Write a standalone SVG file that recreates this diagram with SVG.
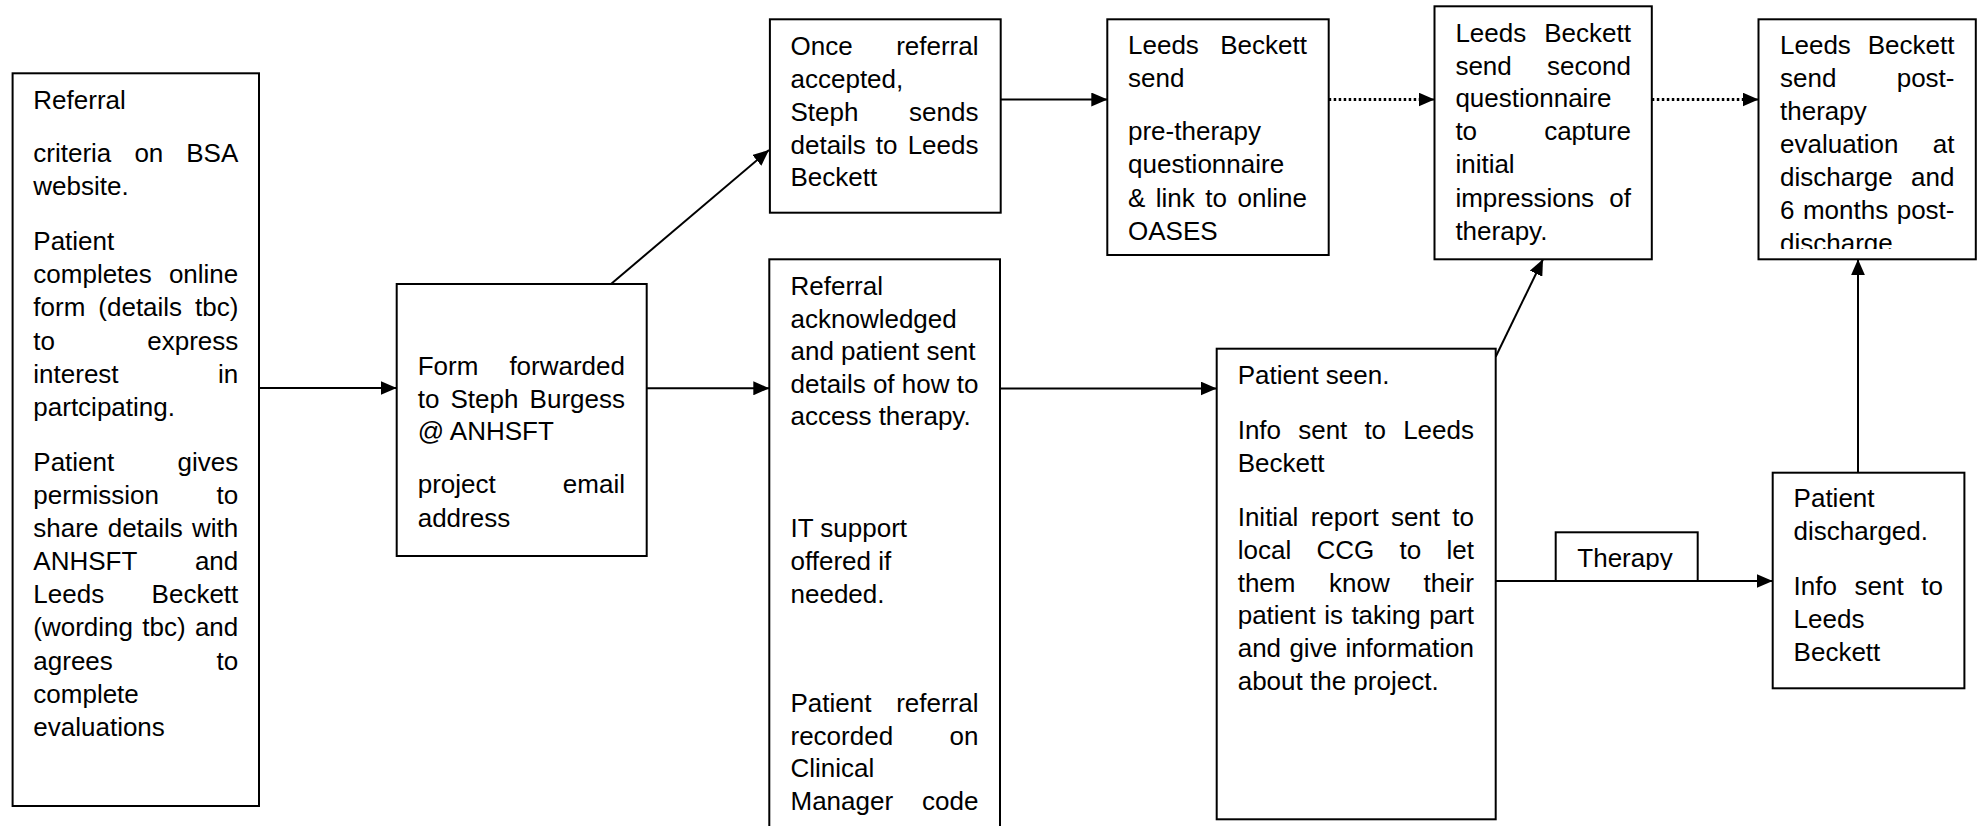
<svg xmlns="http://www.w3.org/2000/svg" width="1981" height="826" viewBox="0 0 1981 826">
<style>
.bx{fill:#fff;stroke:#000;stroke-width:2}
.t{font-family:"Liberation Sans",Arial,sans-serif;font-size:26px;fill:#000}
.e{text-anchor:end}
.ln{fill:none;stroke:#000;stroke-width:2}
.dt{fill:none;stroke:#000;stroke-width:3;stroke-dasharray:2.5 2.5}
</style>
<defs>
<marker id="ah" markerUnits="userSpaceOnUse" markerWidth="16" markerHeight="14" refX="16" refY="7" orient="auto">
<path d="M0,0 L16,7 L0,14 z" fill="#000" stroke="none"/>
</marker>
<clipPath id="c6"><rect x="1758" y="19" width="218" height="230"/></clipPath>
<clipPath id="cth"><rect x="1555" y="532" width="143" height="38"/></clipPath>
</defs>
<rect width="1981" height="826" fill="#fff"/>

<g id="connectors">
<path class="ln" d="M259,388 H396.7" marker-end="url(#ah)"/>
<path class="ln" d="M611,284 L769,150" marker-end="url(#ah)"/>
<path class="ln" d="M646.7,388.3 H769.3" marker-end="url(#ah)"/>
<path class="ln" d="M1000.7,99.5 H1107.3" marker-end="url(#ah)"/>
<path class="dt" d="M1328.7,99.5 H1419"/>
<path class="ln" d="M1419,99.5 H1434.5" marker-end="url(#ah)"/>
<path class="dt" d="M1651.8,99.5 H1743"/>
<path class="ln" d="M1743,99.5 H1758.5" marker-end="url(#ah)"/>
<path class="ln" d="M1000,388.5 H1216.7" marker-end="url(#ah)"/>
<path class="ln" d="M1495.7,356.7 L1543,259.3" marker-end="url(#ah)"/>
<path class="ln" d="M1495.7,581 H1772.7" marker-end="url(#ah)"/>
<path class="ln" d="M1858,472.7 V259.3" marker-end="url(#ah)"/>
</g>

<g id="n1">
<rect class="bx" x="12.6" y="73.3" width="246.4" height="732.7"/>
<text class="t" x="33.3" y="108.5">Referral</text>
<text class="t" x="33.3" y="162">criteria</text><text class="t" x="134.4" y="162">on</text><text class="t e" x="238.3" y="162">BSA</text>
<text class="t" x="33.3" y="195">website.</text>
<text class="t" x="33.3" y="250">Patient</text>
<text class="t" x="33.3" y="283">completes</text><text class="t e" x="238.3" y="283">online</text>
<text class="t" x="33.3" y="316">form</text><text class="t" x="98.3" y="316">(details</text><text class="t e" x="238.3" y="316">tbc)</text>
<text class="t" x="33.3" y="349.5">to</text><text class="t e" x="238.3" y="349.5">express</text>
<text class="t" x="33.3" y="383">interest</text><text class="t e" x="238.3" y="383">in</text>
<text class="t" x="33.3" y="416">partcipating.</text>
<text class="t" x="33.3" y="471">Patient</text><text class="t e" x="238.3" y="471">gives</text>
<text class="t" x="33.3" y="504">permission</text><text class="t e" x="238.3" y="504">to</text>
<text class="t" x="33.3" y="537">share</text><text class="t" x="107.7" y="537">details</text><text class="t e" x="238.3" y="537">with</text>
<text class="t" x="33.3" y="570">ANHSFT</text><text class="t e" x="238.3" y="570">and</text>
<text class="t" x="33.3" y="603">Leeds</text><text class="t e" x="238.3" y="603">Beckett</text>
<text class="t" x="33.3" y="636">(wording</text><text class="t" x="142.3" y="636">tbc)</text><text class="t e" x="238.3" y="636">and</text>
<text class="t" x="33.3" y="669.5">agrees</text><text class="t e" x="238.3" y="669.5">to</text>
<text class="t" x="33.3" y="702.5">complete</text>
<text class="t" x="33.3" y="735.5">evaluations</text>
</g>

<g id="n2">
<rect class="bx" x="396.7" y="284" width="250" height="272"/>
<text class="t" x="417.7" y="375">Form</text><text class="t e" x="625" y="375">forwarded</text>
<text class="t" x="417.7" y="407.7">to</text><text class="t" x="450.5" y="407.7">Steph</text><text class="t e" x="625" y="407.7">Burgess</text>
<text class="t" x="417.7" y="440">@ ANHSFT</text>
<text class="t" x="417.7" y="493.3">project</text><text class="t e" x="625" y="493.3">email</text>
<text class="t" x="417.7" y="526.7">address</text>
</g>

<g id="n3">
<rect class="bx" x="769.9" y="19.3" width="230.8" height="193.4"/>
<text class="t" x="790.5" y="55">Once</text><text class="t e" x="978.5" y="55">referral</text>
<text class="t" x="790.5" y="88">accepted,</text>
<text class="t" x="790.5" y="121">Steph</text><text class="t e" x="978.5" y="121">sends</text>
<text class="t" x="790.5" y="153.5">details</text><text class="t" x="875.8" y="153.5">to</text><text class="t e" x="978.5" y="153.5">Leeds</text>
<text class="t" x="790.5" y="186">Beckett</text>
</g>

<g id="n4">
<rect class="bx" x="1107.3" y="19.3" width="221.4" height="235.7"/>
<text class="t" x="1128" y="54">Leeds</text><text class="t e" x="1307" y="54">Beckett</text>
<text class="t" x="1128" y="87">send</text>
<text class="t" x="1128" y="139.5">pre-therapy</text>
<text class="t" x="1128" y="173">questionnaire</text>
<text class="t" x="1128" y="206.5">&amp;</text><text class="t" x="1155.8" y="206.5">link</text><text class="t" x="1205.3" y="206.5">to</text><text class="t e" x="1307" y="206.5">online</text>
<text class="t" x="1128" y="240">OASES</text>
</g>

<g id="n5">
<rect class="bx" x="1434.5" y="6.3" width="217.3" height="253"/>
<text class="t" x="1455.4" y="42">Leeds</text><text class="t e" x="1630.9" y="42">Beckett</text>
<text class="t" x="1455.4" y="74.5">send</text><text class="t e" x="1630.9" y="74.5">second</text>
<text class="t" x="1455.4" y="107">questionnaire</text>
<text class="t" x="1455.4" y="140">to</text><text class="t e" x="1630.9" y="140">capture</text>
<text class="t" x="1455.4" y="173">initial</text>
<text class="t" x="1455.4" y="206.5">impressions</text><text class="t e" x="1630.9" y="206.5">of</text>
<text class="t" x="1455.4" y="239.5">therapy.</text>
</g>

<g id="n6">
<rect class="bx" x="1758.5" y="19.3" width="217.3" height="240"/>
<g clip-path="url(#c6)">
<text class="t" x="1780" y="54">Leeds</text><text class="t e" x="1954.5" y="54">Beckett</text>
<text class="t" x="1780" y="87">send</text><text class="t e" x="1954.5" y="87">post-</text>
<text class="t" x="1780" y="120">therapy</text>
<text class="t" x="1780" y="153">evaluation</text><text class="t e" x="1954.5" y="153">at</text>
<text class="t" x="1780" y="186">discharge</text><text class="t e" x="1954.5" y="186">and</text>
<text class="t" x="1780" y="219">6</text><text class="t" x="1802.9" y="219">months</text><text class="t e" x="1954.5" y="219">post-</text>
<text class="t" x="1780" y="252">discharge</text>
</g>
</g>

<g id="n7">
<rect class="bx" x="769.3" y="259.3" width="230.7" height="580"/>
<text class="t" x="790.5" y="295">Referral</text>
<text class="t" x="790.5" y="327.5">acknowledged</text>
<text class="t" x="790.5" y="360">and patient sent</text>
<text class="t" x="790.5" y="392.5">details of how to</text>
<text class="t" x="790.5" y="425">access therapy.</text>
<text class="t" x="790.5" y="537">IT support</text>
<text class="t" x="790.5" y="570">offered if</text>
<text class="t" x="790.5" y="602.7">needed.</text>
<text class="t" x="790.5" y="711.7">Patient</text><text class="t e" x="978.5" y="711.7">referral</text>
<text class="t" x="790.5" y="745">recorded</text><text class="t e" x="978.5" y="745">on</text>
<text class="t" x="790.5" y="777">Clinical</text>
<text class="t" x="790.5" y="810">Manager</text><text class="t e" x="978.5" y="810">code</text>
</g>

<g id="n8">
<rect class="bx" x="1216.7" y="348.7" width="279" height="470.6"/>
<text class="t" x="1237.7" y="384">Patient seen.</text>
<text class="t" x="1237.7" y="439.3">Info</text><text class="t" x="1298.2" y="439.3">sent</text><text class="t" x="1364.4" y="439.3">to</text><text class="t e" x="1474" y="439.3">Leeds</text>
<text class="t" x="1237.7" y="471.5">Beckett</text>
<text class="t" x="1237.7" y="526">Initial</text><text class="t" x="1310.7" y="526">report</text><text class="t" x="1390.9" y="526">sent</text><text class="t e" x="1474" y="526">to</text>
<text class="t" x="1237.7" y="559">local</text><text class="t" x="1316.5" y="559">CCG</text><text class="t" x="1399.6" y="559">to</text><text class="t e" x="1474" y="559">let</text>
<text class="t" x="1237.7" y="591.7">them</text><text class="t" x="1329.1" y="591.7">know</text><text class="t e" x="1474" y="591.7">their</text>
<text class="t" x="1237.7" y="624.3">patient</text><text class="t" x="1324.2" y="624.3">is</text><text class="t" x="1351.4" y="624.3">taking</text><text class="t e" x="1474" y="624.3">part</text>
<text class="t" x="1237.7" y="657">and</text><text class="t" x="1289.4" y="657">give</text><text class="t e" x="1474" y="657">information</text>
<text class="t" x="1237.7" y="690">about the project.</text>
</g>

<g id="n9">
<rect class="bx" x="1555.7" y="532.3" width="142" height="48.7"/>
<text class="t" x="1577.3" y="567.3" clip-path="url(#cth)">Therapy</text>
</g>

<g id="n10">
<rect class="bx" x="1772.7" y="472.7" width="191.7" height="215.6"/>
<text class="t" x="1793.6" y="506.5">Patient</text>
<text class="t" x="1793.6" y="539.5">discharged.</text>
<text class="t" x="1793.6" y="594.5">Info</text><text class="t" x="1854.6" y="594.5">sent</text><text class="t e" x="1943" y="594.5">to</text>
<text class="t" x="1793.6" y="627.5">Leeds</text>
<text class="t" x="1793.6" y="660.5">Beckett</text>
</g>
</svg>
